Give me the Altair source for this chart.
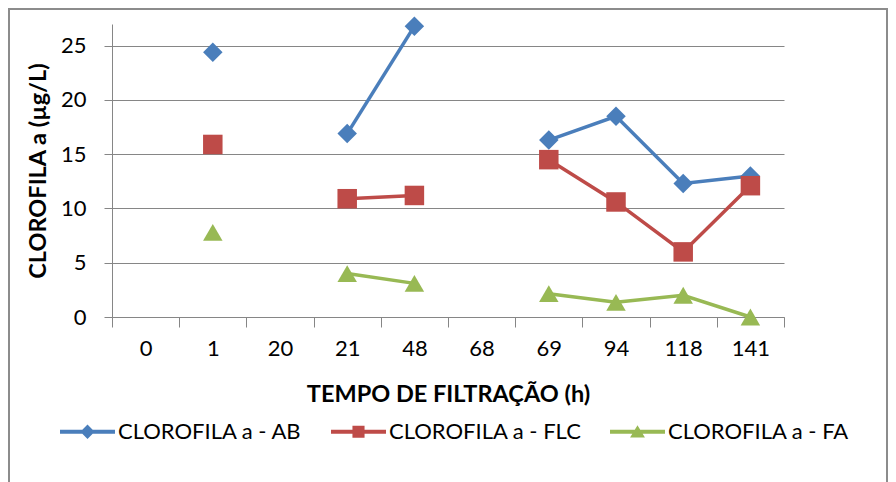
import altair as alt
import pandas as pd

hours = ["0", "1", "20", "21", "48", "68", "69", "94", "118", "141"]
series_names = ["CLOROFILA a - AB", "CLOROFILA a - FLC", "CLOROFILA a - FA"]
ab = [None, 24.4, None, 16.9, 26.8, None, 16.3, 18.5, 12.3, 13.0]
flc = [None, 15.9, None, 10.9, 11.2, None, 14.5, 10.6, 6.0, 12.1]
fa = [None, 7.8, None, 4.0, 3.1, None, 2.15, 1.35, 2.0, 0.0]
y_ticks = [0, 5, 10, 15, 20, 25]

colors = ["#4A7EBB", "#BE4B48", "#98B954"]
plot_shapes = ["diamond", "square", "triangle-up"]
legend_shapes = [
    "M-1,-0.07 H1 V0.07 H-1 Z M0,-0.26 L0.26,0 L0,0.26 L-0.26,0 Z",
    "M-1,-0.07 H1 V0.07 H-1 Z M-0.22,-0.22 H0.22 V0.22 H-0.22 Z",
    "M-1,-0.07 H1 V0.07 H-1 Z M0,-0.24 L0.27,0.21 L-0.27,0.21 Z",
]

rows = []
for name, vals in zip(series_names, [ab, flc, fa]):
    seg = 0
    for h, v in zip(hours, vals):
        if v is None:
            seg += 1
            continue
        rows.append({"hora": h, "valor": v, "serie": name, "seg": f"{name}-{seg}"})
df = pd.DataFrame(rows)

FONT = "Lato"

x_enc = alt.X(
    "hora:N",
    sort=hours,
    scale=alt.Scale(type="band", domain=hours, paddingInner=0, paddingOuter=0),
    axis=alt.Axis(
        title="TEMPO DE FILTRAÇÃO (h)",
        tickBand="extent",
        grid=False,
        labelAngle=0,
        tickSize=10,
        labelPadding=11,
        titlePadding=23,
    ),
)
y_enc = alt.Y(
    "valor:Q",
    scale=alt.Scale(domain=[0, 27], nice=False),
    axis=alt.Axis(
        title="CLOROFILA a (µg/L)",
        values=y_ticks,
        tickSize=8,
        labelPadding=18,
        titlePadding=10,
        grid=True,
    ),
)
color_scale = alt.Scale(domain=series_names, range=colors)

legend_def = alt.Legend(
    title=None,
    orient="none",
    direction="horizontal",
    legendX=-52,
    legendY=380,
    symbolSize=3025,
    symbolOpacity=1,
    symbolStrokeWidth=0,
    labelFontSize=22,
    labelFont=FONT,
    labelColor="#000000",
    labelOffset=3,
    columnPadding=28,
    labelLimit=400,
)

base = alt.Chart(df)

lines = base.mark_line(strokeWidth=3.5).encode(
    x=x_enc,
    y=y_enc,
    color=alt.Color("serie:N", scale=color_scale, legend=None),
    detail="seg:N",
)

points = base.mark_point(filled=True, size=380, opacity=1).encode(
    x=x_enc,
    y=y_enc,
    color=alt.Color("serie:N", scale=color_scale, legend=None),
    shape=alt.Shape("serie:N", scale=alt.Scale(domain=series_names, range=plot_shapes), legend=None),
)

legend_layer = base.mark_point(filled=True, size=0, opacity=0).encode(
    x=x_enc,
    y=y_enc,
    color=alt.Color("serie:N", scale=color_scale, legend=legend_def),
    shape=alt.Shape(
        "serie:N",
        scale=alt.Scale(domain=series_names, range=legend_shapes),
        legend=legend_def,
    ),
)

border = alt.Chart(pd.DataFrame({"a": [0]})).mark_rect(
    filled=False, stroke="#8C8C8C", strokeWidth=2
).encode(
    x=alt.value(-103), x2=alt.value(775), y=alt.value(-15), y2=alt.value(480)
)

chart = (
    alt.layer(border, lines, points, legend_layer)
    .resolve_scale(shape="independent", color="independent")
    .properties(
        width=672,
        height=293,
        autosize=alt.AutoSizeParams(type="none"),
        padding={"left": 104, "top": 16, "right": 104, "bottom": 170},
    )
    .configure_view(stroke=None)
    .configure_axis(
        domainColor="#868686",
        tickColor="#868686",
        gridColor="#868686",
        labelColor="#000000",
        titleColor="#000000",
        labelFont=FONT,
        titleFont=FONT,
        labelFontSize=22,
        titleFontSize=23.5,
        titleFontWeight="bold",
    )
)

chart.save("out.html", embed_options={"renderer": "svg", "actions": False})
